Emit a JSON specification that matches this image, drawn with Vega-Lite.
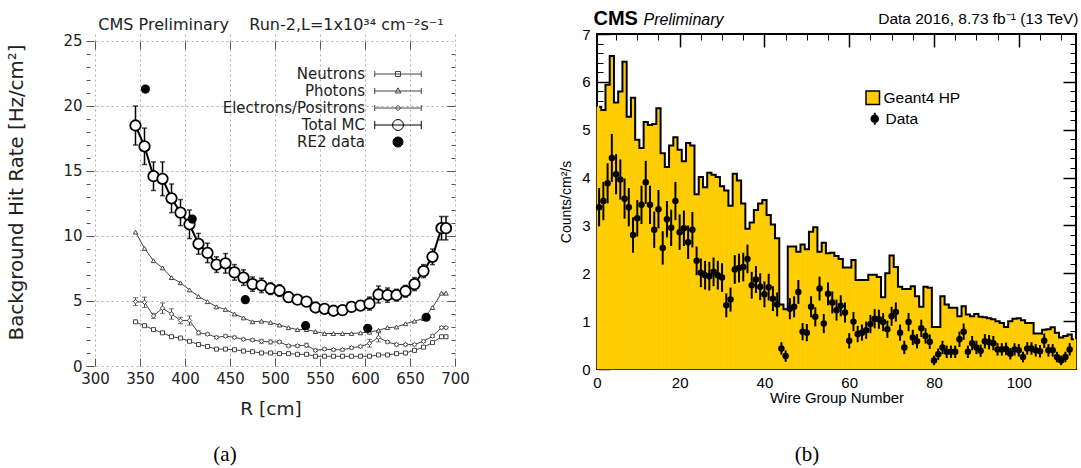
{
"$schema":"https://vega.github.io/schema/vega-lite/v6.json",
"background":"white",
"padding":{"left":6,"top":3,"right":0,"bottom":0},
"config":{"view":{"stroke":null},"axis":{"grid":false,"domain":false,"labelFlush":false,"labelOverlap":false},"legend":{"padding":0}},
"datasets":{
"sim":[
{"R":345,"N":3.4,"P":10.3,"E":4.95,"Ee":0.3,"T":18.5,"Te":1.5},
{"R":355,"N":3.1,"P":9.05,"E":4.9,"Ee":0.4,"T":16.9,"Te":1.4},
{"R":365,"N":2.8,"P":8.1,"E":3.85,"Ee":0.2,"T":14.6,"Te":1.1},
{"R":375,"N":2.55,"P":7.55,"E":4.45,"Ee":0.4,"T":14.4,"Te":1.3},
{"R":385,"N":2.25,"P":6.8,"E":4.0,"Ee":0.4,"T":12.9,"Te":1.1},
{"R":395,"N":2.15,"P":6.4,"E":3.5,"Ee":0.25,"T":11.8,"Te":1.0},
{"R":405,"N":1.9,"P":5.85,"E":3.5,"Ee":0.35,"T":10.9,"Te":1.1},
{"R":415,"N":1.65,"P":5.35,"E":2.55,"Ee":0.15,"T":9.4,"Te":0.8},
{"R":425,"N":1.5,"P":4.95,"E":2.45,"Ee":0.1,"T":8.7,"Te":0.75},
{"R":435,"N":1.3,"P":4.55,"E":2.2,"Ee":0.1,"T":7.8,"Te":0.6},
{"R":445,"N":1.3,"P":4.35,"E":2.3,"Ee":0.1,"T":7.9,"Te":0.75},
{"R":455,"N":1.25,"P":4.0,"E":2.2,"Ee":0.1,"T":7.2,"Te":0.6},
{"R":465,"N":1.15,"P":3.7,"E":2.05,"Ee":0.1,"T":6.8,"Te":0.6},
{"R":475,"N":1.1,"P":3.4,"E":2.0,"Ee":0.1,"T":6.3,"Te":0.55},
{"R":485,"N":1.0,"P":3.45,"E":1.9,"Ee":0.15,"T":6.2,"Te":0.55},
{"R":495,"N":1.0,"P":3.35,"E":1.85,"Ee":0.15,"T":5.95,"Te":0.45},
{"R":505,"N":0.95,"P":3.15,"E":1.85,"Ee":0.1,"T":5.8,"Te":0.45},
{"R":515,"N":0.95,"P":2.95,"E":1.55,"Ee":0.1,"T":5.3,"Te":0.4},
{"R":525,"N":0.9,"P":2.8,"E":1.55,"Ee":0.1,"T":5.1,"Te":0.35},
{"R":535,"N":0.9,"P":2.8,"E":1.6,"Ee":0.15,"T":4.95,"Te":0.35},
{"R":545,"N":0.75,"P":2.65,"E":1.2,"Ee":0.1,"T":4.5,"Te":0.3},
{"R":555,"N":0.75,"P":2.5,"E":1.3,"Ee":0.1,"T":4.4,"Te":0.3},
{"R":565,"N":0.75,"P":2.5,"E":1.25,"Ee":0.1,"T":4.25,"Te":0.3},
{"R":575,"N":0.75,"P":2.5,"E":1.25,"Ee":0.1,"T":4.3,"Te":0.3},
{"R":585,"N":0.75,"P":2.5,"E":1.4,"Ee":0.1,"T":4.55,"Te":0.3},
{"R":595,"N":0.75,"P":2.55,"E":1.5,"Ee":0.1,"T":4.65,"Te":0.35},
{"R":605,"N":0.75,"P":2.6,"E":1.75,"Ee":0.3,"T":4.8,"Te":0.5},
{"R":615,"N":0.85,"P":2.75,"E":2.2,"Ee":0.35,"T":5.5,"Te":0.65},
{"R":625,"N":0.85,"P":2.95,"E":1.85,"Ee":0.1,"T":5.45,"Te":0.55},
{"R":635,"N":0.95,"P":3.0,"E":1.65,"Ee":0.1,"T":5.45,"Te":0.45},
{"R":645,"N":1.0,"P":3.25,"E":1.65,"Ee":0.1,"T":5.75,"Te":0.45},
{"R":655,"N":1.2,"P":3.45,"E":1.65,"Ee":0.1,"T":6.3,"Te":0.5},
{"R":665,"N":1.45,"P":3.65,"E":1.9,"Ee":0.1,"T":7.3,"Te":0.5},
{"R":675,"N":1.8,"P":4.5,"E":2.3,"Ee":0.1,"T":8.4,"Te":0.6},
{"R":685,"N":2.25,"P":5.6,"E":2.95,"Ee":0.1,"T":10.6,"Te":0.9},
{"R":690,"N":2.25,"P":5.6,"E":2.95,"Ee":0.1,"T":10.6,"Te":0.9}
],
"re2":[{"R":356,"v":21.3},{"R":408,"v":11.3},{"R":467,"v":5.1},{"R":534,"v":3.1},{"R":603,"v":2.9},{"R":668,"v":3.75}],
"wg":[
{"wg":1,"lo":0.5,"hi":1.5,"h":5.48,"d":3.38,"e":0.4},
{"wg":2,"lo":1.5,"hi":2.5,"h":5.41,"d":3.51,"e":0.4},
{"wg":3,"lo":2.5,"hi":3.5,"h":5.94,"d":3.88,"e":0.42},
{"wg":4,"lo":3.5,"hi":4.5,"h":6.54,"d":4.41,"e":0.5},
{"wg":5,"lo":4.5,"hi":5.5,"h":5.57,"d":4.07,"e":0.42},
{"wg":6,"lo":5.5,"hi":6.5,"h":5.8,"d":3.96,"e":0.42},
{"wg":7,"lo":6.5,"hi":7.5,"h":6.42,"d":3.56,"e":0.42},
{"wg":8,"lo":7.5,"hi":8.5,"h":5.27,"d":3.38,"e":0.4},
{"wg":9,"lo":8.5,"hi":9.5,"h":5.67,"d":2.8,"e":0.37},
{"wg":10,"lo":9.5,"hi":10.5,"h":4.79,"d":3.15,"e":0.38},
{"wg":11,"lo":10.5,"hi":11.5,"h":4.62,"d":3.43,"e":0.4},
{"wg":12,"lo":11.5,"hi":12.5,"h":5.16,"d":3.9,"e":0.45},
{"wg":13,"lo":12.5,"hi":13.5,"h":5.1,"d":3.43,"e":0.4},
{"wg":14,"lo":13.5,"hi":14.5,"h":5.12,"d":2.91,"e":0.38},
{"wg":15,"lo":14.5,"hi":15.5,"h":5.45,"d":3.34,"e":0.4},
{"wg":16,"lo":15.5,"hi":16.5,"h":4.51,"d":2.53,"e":0.35},
{"wg":17,"lo":16.5,"hi":17.5,"h":4.22,"d":3.13,"e":0.38},
{"wg":18,"lo":17.5,"hi":18.5,"h":4.67,"d":2.95,"e":0.38},
{"wg":19,"lo":18.5,"hi":19.5,"h":4.84,"d":3.51,"e":0.4},
{"wg":20,"lo":19.5,"hi":20.5,"h":4.58,"d":2.86,"e":0.37},
{"wg":21,"lo":20.5,"hi":21.5,"h":4.34,"d":2.94,"e":0.37},
{"wg":22,"lo":21.5,"hi":22.5,"h":4.72,"d":2.65,"e":0.35},
{"wg":23,"lo":22.5,"hi":23.5,"h":4.67,"d":2.91,"e":0.37},
{"wg":24,"lo":23.5,"hi":24.5,"h":3.65,"d":2.26,"e":0.3},
{"wg":25,"lo":24.5,"hi":25.5,"h":4.01,"d":2.01,"e":0.3},
{"wg":26,"lo":25.5,"hi":26.5,"h":3.8,"d":1.96,"e":0.3},
{"wg":27,"lo":26.5,"hi":27.5,"h":4.1,"d":1.94,"e":0.3},
{"wg":28,"lo":27.5,"hi":28.5,"h":4.06,"d":2.03,"e":0.3},
{"wg":29,"lo":28.5,"hi":29.5,"h":4.01,"d":1.96,"e":0.3},
{"wg":30,"lo":29.5,"hi":30.5,"h":3.82,"d":1.91,"e":0.3},
{"wg":31,"lo":30.5,"hi":31.5,"h":3.73,"d":1.33,"e":0.25},
{"wg":32,"lo":31.5,"hi":32.5,"h":3.41,"d":1.45,"e":0.25},
{"wg":33,"lo":32.5,"hi":33.5,"h":4.08,"d":2.08,"e":0.3},
{"wg":34,"lo":33.5,"hi":34.5,"h":3.94,"d":2.11,"e":0.3},
{"wg":35,"lo":34.5,"hi":35.5,"h":3.46,"d":2.13,"e":0.3},
{"wg":36,"lo":35.5,"hi":36.5,"h":2.93,"d":2.3,"e":0.3},
{"wg":37,"lo":36.5,"hi":37.5,"h":3.06,"d":1.75,"e":0.28},
{"wg":38,"lo":37.5,"hi":38.5,"h":3.32,"d":1.87,"e":0.28},
{"wg":39,"lo":38.5,"hi":39.5,"h":3.46,"d":1.72,"e":0.28},
{"wg":40,"lo":39.5,"hi":40.5,"h":3.53,"d":1.56,"e":0.27},
{"wg":41,"lo":40.5,"hi":41.5,"h":3.22,"d":1.71,"e":0.28},
{"wg":42,"lo":41.5,"hi":42.5,"h":3.02,"d":1.47,"e":0.26},
{"wg":43,"lo":42.5,"hi":43.5,"h":2.73,"d":1.35,"e":0.25},
{"wg":44,"lo":43.5,"hi":44.5,"h":1.35,"d":0.43,"e":0.13},
{"wg":45,"lo":44.5,"hi":45.5,"h":1.25,"d":0.27,"e":0.12},
{"wg":46,"lo":45.5,"hi":46.5,"h":2.56,"d":1.26,"e":0.22},
{"wg":47,"lo":46.5,"hi":47.5,"h":2.56,"d":1.3,"e":0.22},
{"wg":48,"lo":47.5,"hi":48.5,"h":2.45,"d":1.61,"e":0.25},
{"wg":49,"lo":48.5,"hi":49.5,"h":2.6,"d":0.78,"e":0.18},
{"wg":50,"lo":49.5,"hi":50.5,"h":2.5,"d":0.76,"e":0.18},
{"wg":51,"lo":50.5,"hi":51.5,"h":2.87,"d":1.3,"e":0.22},
{"wg":52,"lo":51.5,"hi":52.5,"h":2.96,"d":1.09,"e":0.2},
{"wg":53,"lo":52.5,"hi":53.5,"h":2.45,"d":1.68,"e":0.25},
{"wg":54,"lo":53.5,"hi":54.5,"h":2.64,"d":0.95,"e":0.2},
{"wg":55,"lo":54.5,"hi":55.5,"h":2.42,"d":1.57,"e":0.24},
{"wg":56,"lo":55.5,"hi":56.5,"h":2.43,"d":1.39,"e":0.23},
{"wg":57,"lo":56.5,"hi":57.5,"h":2.36,"d":1.23,"e":0.22},
{"wg":58,"lo":57.5,"hi":58.5,"h":2.3,"d":1.32,"e":0.22},
{"wg":59,"lo":58.5,"hi":59.5,"h":2.12,"d":1.18,"e":0.21},
{"wg":60,"lo":59.5,"hi":60.5,"h":2.12,"d":0.59,"e":0.16},
{"wg":61,"lo":60.5,"hi":61.5,"h":2.28,"d":0.99,"e":0.2},
{"wg":62,"lo":61.5,"hi":62.5,"h":1.86,"d":0.73,"e":0.17},
{"wg":63,"lo":62.5,"hi":63.5,"h":1.86,"d":0.76,"e":0.17},
{"wg":64,"lo":63.5,"hi":64.5,"h":1.86,"d":0.81,"e":0.18},
{"wg":65,"lo":64.5,"hi":65.5,"h":1.97,"d":0.94,"e":0.19},
{"wg":66,"lo":65.5,"hi":66.5,"h":1.97,"d":1.05,"e":0.2},
{"wg":67,"lo":66.5,"hi":67.5,"h":1.92,"d":1.04,"e":0.2},
{"wg":68,"lo":67.5,"hi":68.5,"h":1.5,"d":0.98,"e":0.19},
{"wg":69,"lo":68.5,"hi":69.5,"h":2.0,"d":0.83,"e":0.18},
{"wg":70,"lo":69.5,"hi":70.5,"h":2.37,"d":1.1,"e":0.2},
{"wg":71,"lo":70.5,"hi":71.5,"h":2.13,"d":1.19,"e":0.2},
{"wg":72,"lo":71.5,"hi":72.5,"h":1.72,"d":0.76,"e":0.17},
{"wg":73,"lo":72.5,"hi":73.5,"h":1.67,"d":0.45,"e":0.14},
{"wg":74,"lo":73.5,"hi":74.5,"h":1.67,"d":0.98,"e":0.19},
{"wg":75,"lo":74.5,"hi":75.5,"h":1.73,"d":0.66,"e":0.16},
{"wg":76,"lo":75.5,"hi":76.5,"h":1.52,"d":0.58,"e":0.15},
{"wg":77,"lo":76.5,"hi":77.5,"h":1.3,"d":0.85,"e":0.18},
{"wg":78,"lo":77.5,"hi":78.5,"h":1.72,"d":0.69,"e":0.16},
{"wg":79,"lo":78.5,"hi":79.5,"h":1.7,"d":0.57,"e":0.15},
{"wg":80,"lo":79.5,"hi":80.5,"h":0.88,"d":0.18,"e":0.1},
{"wg":81,"lo":80.5,"hi":81.5,"h":0.88,"d":0.31,"e":0.12},
{"wg":82,"lo":81.5,"hi":82.5,"h":1.52,"d":0.45,"e":0.14},
{"wg":83,"lo":82.5,"hi":83.5,"h":1.35,"d":0.36,"e":0.13},
{"wg":84,"lo":83.5,"hi":84.5,"h":1.28,"d":0.36,"e":0.13},
{"wg":85,"lo":84.5,"hi":85.5,"h":1.28,"d":0.36,"e":0.13},
{"wg":86,"lo":85.5,"hi":86.5,"h":1.1,"d":0.62,"e":0.16},
{"wg":87,"lo":86.5,"hi":87.5,"h":1.31,"d":0.78,"e":0.17},
{"wg":88,"lo":87.5,"hi":88.5,"h":1.14,"d":0.36,"e":0.13},
{"wg":89,"lo":88.5,"hi":89.5,"h":1.1,"d":0.54,"e":0.15},
{"wg":90,"lo":89.5,"hi":90.5,"h":1.15,"d":0.45,"e":0.14},
{"wg":91,"lo":90.5,"hi":91.5,"h":1.09,"d":0.38,"e":0.13},
{"wg":92,"lo":91.5,"hi":92.5,"h":1.08,"d":0.58,"e":0.15},
{"wg":93,"lo":92.5,"hi":93.5,"h":1.06,"d":0.56,"e":0.15},
{"wg":94,"lo":93.5,"hi":94.5,"h":1.04,"d":0.54,"e":0.15},
{"wg":95,"lo":94.5,"hi":95.5,"h":1.0,"d":0.41,"e":0.13},
{"wg":96,"lo":95.5,"hi":96.5,"h":0.96,"d":0.41,"e":0.13},
{"wg":97,"lo":96.5,"hi":97.5,"h":0.88,"d":0.42,"e":0.13},
{"wg":98,"lo":97.5,"hi":98.5,"h":1.0,"d":0.32,"e":0.12},
{"wg":99,"lo":98.5,"hi":99.5,"h":1.05,"d":0.41,"e":0.13},
{"wg":100,"lo":99.5,"hi":100.5,"h":1.06,"d":0.39,"e":0.13},
{"wg":101,"lo":100.5,"hi":101.5,"h":1.02,"d":0.25,"e":0.11},
{"wg":102,"lo":101.5,"hi":102.5,"h":0.96,"d":0.43,"e":0.13},
{"wg":103,"lo":102.5,"hi":103.5,"h":0.96,"d":0.43,"e":0.13},
{"wg":104,"lo":103.5,"hi":104.5,"h":0.74,"d":0.39,"e":0.13},
{"wg":105,"lo":104.5,"hi":105.5,"h":0.74,"d":0.37,"e":0.13},
{"wg":106,"lo":105.5,"hi":106.5,"h":0.82,"d":0.59,"e":0.15},
{"wg":107,"lo":106.5,"hi":107.5,"h":0.83,"d":0.39,"e":0.13},
{"wg":108,"lo":107.5,"hi":108.5,"h":0.87,"d":0.39,"e":0.13},
{"wg":109,"lo":108.5,"hi":109.5,"h":0.76,"d":0.25,"e":0.11},
{"wg":110,"lo":109.5,"hi":110.5,"h":0.66,"d":0.18,"e":0.1},
{"wg":111,"lo":110.5,"hi":111.5,"h":0.69,"d":0.25,"e":0.11},
{"wg":112,"lo":111.5,"hi":112.5,"h":0.72,"d":0.41,"e":0.13},
{"wg":113,"lo":112.5,"hi":113.5,"h":0.62,"d":null,"e":null}
]
},
"spacing":25,
"vconcat":[
{"hconcat":[
{
"width":369,"height":332,
"view":{"stroke":null},
"resolve":{"axis":{"x":"independent","y":"independent"},"scale":{"shape":"independent","fill":"independent","stroke":"independent","strokeWidth":"independent"}},
"layer":[
{"data":{"name":"sim"},
"transform":[{"fold":["N","P","E"],"as":["s","v"]}],
"mark":{"type":"line","color":"#444","strokeWidth":1},
"encoding":{
"x":{"field":"R","type":"quantitative","scale":{"domain":[290,700],"nice":false,"zero":false},
"axis":{"orient":"bottom","values":[300,350,400,450,500,550,600,650,700],"title":"R [cm]","grid":true,"gridDash":[2,3],"gridColor":"#999","gridWidth":0.8,"tickSize":-8,"tickColor":"#555","labelPadding":13,"labelFont":"DejaVu Sans","labelFontSize":15,"labelColor":"#222","titleFont":"DejaVu Sans","titleFontSize":18.5,"titleFontWeight":"normal","titleColor":"#222","titlePadding":13}},
"y":{"field":"v","type":"quantitative","scale":{"domain":[0,25.538],"nice":false},
"axis":{"orient":"left","values":[0,5,10,15,20,25],"title":"Background Hit Rate [Hz/cm²]","grid":true,"gridDash":[2,3],"gridColor":"#999","gridWidth":0.8,"tickSize":-8,"tickColor":"#555","labelPadding":12,"labelFont":"DejaVu Sans","labelFontSize":15,"labelColor":"#222","titleFont":"DejaVu Sans","titleFontSize":19.8,"titleFontWeight":"normal","titleColor":"#222","titlePadding":36,"titleY":158}},
"detail":{"field":"s"}
}},
{"data":{"name":"sim"},
"mark":{"type":"line","color":"black","strokeWidth":2},
"encoding":{
"x":{"field":"R","type":"quantitative","scale":{"domain":[290,700],"nice":false,"zero":false},"axis":null},
"y":{"field":"T","type":"quantitative","scale":{"domain":[0,25.538],"nice":false},"axis":null}
}},
{"data":{"name":"sim"},
"mark":{"type":"errorbar","ticks":true,"thickness":1.5,"color":"black"},
"encoding":{
"x":{"field":"R","type":"quantitative","scale":{"domain":[290,700],"nice":false,"zero":false},
"axis":{"orient":"top","offset":-7,"values":[300,350,400,450,500,550,600,650],"labels":false,"tickSize":-8,"tickColor":"#555","title":"CMS Preliminary\u00a0\u00a0\u00a0 Run-2,L=1x10\u00b3\u2074 cm\u207b\u00b2s\u207b\u00b9","titleFont":"DejaVu Sans","titleFontSize":16,"titleFontWeight":"normal","titleColor":"#222","titleY":-11.7,"titleBaseline":"alphabetic"}},
"y":{"field":"T","type":"quantitative","scale":{"domain":[0,25.538],"nice":false},
"axis":{"orient":"right","values":[5,10,15,20],"labels":false,"tickSize":-8,"tickColor":"#555","title":null}},
"yError":{"field":"Te"}
}},
{"data":{"name":"sim"},
"mark":{"type":"errorbar","ticks":true,"thickness":1,"color":"#444"},
"encoding":{
"x":{"field":"R","type":"quantitative","scale":{"domain":[290,700],"nice":false,"zero":false},"axis":null},
"y":{"field":"E","type":"quantitative","scale":{"domain":[0,25.538],"nice":false},
"axis":{"orient":"right","values":[1,2,3,4,6,7,8,9,11,12,13,14,16,17,18,19,21,22,23,24],"labels":false,"tickSize":-4,"tickColor":"#555","title":null}},
"yError":{"field":"Ee"}
}},
{"data":{"name":"sim"},
"mark":{"type":"point","shape":"square","size":16,"filled":true,"fill":"white","stroke":"#444","strokeWidth":1,"opacity":1},
"encoding":{
"x":{"field":"R","type":"quantitative","scale":{"domain":[290,700],"nice":false,"zero":false},"axis":null},
"y":{"field":"N","type":"quantitative","scale":{"domain":[0,25.538],"nice":false},
"axis":{"orient":"left","values":[1,2,3,4,6,7,8,9,11,12,13,14,16,17,18,19,21,22,23,24],"labels":false,"tickSize":-4,"tickColor":"#555","title":null}}
}},
{"data":{"name":"sim"},
"mark":{"type":"point","shape":"triangle-up","size":20,"filled":true,"fill":"white","stroke":"#444","strokeWidth":1,"opacity":1},
"encoding":{
"x":{"field":"R","type":"quantitative","scale":{"domain":[290,700],"nice":false,"zero":false},"axis":null},
"y":{"field":"P","type":"quantitative","scale":{"domain":[0,25.538],"nice":false},"axis":null}
}},
{"data":{"name":"sim"},
"mark":{"type":"point","shape":"diamond","size":20,"filled":true,"fill":"white","stroke":"#444","strokeWidth":1,"opacity":1},
"encoding":{
"x":{"field":"R","type":"quantitative","scale":{"domain":[290,700],"nice":false,"zero":false},"axis":null},
"y":{"field":"E","type":"quantitative","scale":{"domain":[0,25.538],"nice":false},"axis":null}
}},
{"data":{"name":"sim"},
"mark":{"type":"point","shape":"circle","size":110,"filled":true,"fill":"white","stroke":"black","strokeWidth":1.8,"opacity":1},
"encoding":{
"x":{"field":"R","type":"quantitative","scale":{"domain":[290,700],"nice":false,"zero":false},"axis":null},
"y":{"field":"T","type":"quantitative","scale":{"domain":[0,25.538],"nice":false},"axis":null}
}},
{"data":{"name":"re2"},
"mark":{"type":"point","shape":"circle","filled":true,"color":"black","size":85,"opacity":1},
"encoding":{
"x":{"field":"R","type":"quantitative","scale":{"domain":[290,700],"nice":false,"zero":false},"axis":null},
"y":{"field":"v","type":"quantitative","scale":{"domain":[0,25.538],"nice":false},"axis":null}
}},
{"mark":{"type":"rect","fill":"white","strokeWidth":0},
"encoding":{
"x":{"datum":289,"type":"quantitative","scale":{"domain":[290,700],"nice":false,"zero":false},"axis":null},
"x2":{"datum":701},
"y":{"datum":25,"type":"quantitative","scale":{"domain":[0,25.538],"nice":false},"axis":null},
"y2":{"datum":25.6}
}},
{"mark":{"type":"rect","fill":"transparent","stroke":"#555","strokeWidth":1},
"encoding":{
"x":{"datum":290,"type":"quantitative","scale":{"domain":[290,700],"nice":false,"zero":false},"axis":null},
"x2":{"datum":700},
"y":{"datum":0,"type":"quantitative","scale":{"domain":[0,25.538],"nice":false},"axis":null},
"y2":{"datum":25}
}},
{"data":{"values":[]},
"mark":{"type":"point","filled":true,"size":225,"opacity":1},
"encoding":{
"shape":{"field":"s","type":"nominal","scale":{"domain":["Neutrons","Photons","Electrons/Positrons","Total MC","RE2 data"],"range":["M-3.1,0H3.1M-3.1,-0.4V0.4M3.1,-0.4V0.4M-0.33,-0.33H0.33V0.33H-0.33Z","M-3.1,0H3.1M-3.1,-0.4V0.4M3.1,-0.4V0.4M0,-0.42L0.38,0.26H-0.38Z","M-3.1,0H3.1M-3.1,-0.4V0.4M3.1,-0.4V0.4M0,-0.36L0.36,0L0,0.36L-0.36,0Z","M-3.1,0H3.1M-3.1,-0.55V0.55M3.1,-0.55V0.55M0.73,0A0.73,0.73 0 1,1 -0.73,0A0.73,0.73 0 1,1 0.73,0Z","M0.67,0A0.67,0.67 0 1,1 -0.67,0A0.67,0.67 0 1,1 0.67,0Z"]},
"legend":{"orient":"none","legendX":304,"legendY":32,"title":null,"labelAlign":"right","labelOffset":-41,"labelFont":"DejaVu Sans","labelFontSize":15,"labelColor":"#222","labelLimit":400,"rowPadding":1,"symbolSize":225,"symbolOpacity":1}},
"fill":{"field":"s","type":"nominal","scale":{"domain":["Neutrons","Photons","Electrons/Positrons","Total MC","RE2 data"],"range":["white","white","white","white","black"]},
"legend":{"orient":"none","legendX":304,"legendY":32,"title":null,"labelAlign":"right","labelOffset":-41,"labelFont":"DejaVu Sans","labelFontSize":15,"labelColor":"#222","labelLimit":400,"rowPadding":1,"symbolSize":225,"symbolOpacity":1}},
"stroke":{"field":"s","type":"nominal","scale":{"domain":["Neutrons","Photons","Electrons/Positrons","Total MC","RE2 data"],"range":["#444","#444","#444","black","black"]},
"legend":{"orient":"none","legendX":304,"legendY":32,"title":null,"labelAlign":"right","labelOffset":-41,"labelFont":"DejaVu Sans","labelFontSize":15,"labelColor":"#222","labelLimit":400,"rowPadding":1,"symbolSize":225,"symbolOpacity":1}},
"strokeWidth":{"field":"s","type":"nominal","scale":{"domain":["Neutrons","Photons","Electrons/Positrons","Total MC","RE2 data"],"range":[1,1,1,1.8,1]},
"legend":{"orient":"none","legendX":304,"legendY":32,"title":null,"labelAlign":"right","labelOffset":-41,"labelFont":"DejaVu Sans","labelFontSize":15,"labelColor":"#222","labelLimit":400,"rowPadding":1,"symbolSize":225,"symbolOpacity":1}}
}}
]
},
{
"width":479,"height":335,
"view":{"stroke":"black","strokeWidth":2},
"data":{"name":"wg"},
"resolve":{"axis":{"x":"independent","y":"independent"},"scale":{"fill":"independent","shape":"independent"}},
"layer":[
{"mark":{"type":"bar","color":"#FFCC00","stroke":"#FFCC00","strokeWidth":0.6},
"encoding":{
"x":{"field":"lo","type":"quantitative","scale":{"domain":[0.5,113.5],"nice":false,"zero":false},
"axis":{"orient":"bottom","values":[0.5,20,40,60,80,100],"labelExpr":"datum.value < 1 ? '0' : datum.label","title":"Wire Group Number","tickSize":-13,"tickWidth":1.5,"tickColor":"black","labelPadding":19,"labelFont":"Liberation Sans","labelFontSize":15,"labelColor":"black","titleFont":"Liberation Sans","titleFontSize":15,"titleFontWeight":"normal","titleColor":"black","titlePadding":0}},
"x2":{"field":"hi"},
"y":{"field":"h","type":"quantitative","scale":{"domain":[0,7],"nice":false},
"axis":{"orient":"left","values":[0,1,2,3,4,5,6,7],"title":"Counts/cm²/s","tickSize":-13,"tickWidth":1.5,"tickColor":"black","labelPadding":20,"labelFont":"Liberation Sans","labelFontSize":15,"labelColor":"black","titleFont":"Liberation Sans","titleFontSize":14,"titleFontWeight":"normal","titleColor":"black","titlePadding":8}},
"y2":{"datum":0}
}},
{"mark":{"type":"line","interpolate":"step","color":"black","strokeWidth":2},
"encoding":{
"x":{"field":"wg","type":"quantitative","scale":{"domain":[0.5,113.5],"nice":false,"zero":false},
"axis":{"orient":"top","values":[20,40,60,80,100],"labels":false,"tickSize":-13,"tickWidth":1.5,"tickColor":"black","title":"CMS","titleFont":"Liberation Sans","titleFontSize":20,"titleFontWeight":"bold","titleColor":"black","titleX":-4,"titleY":-9.5,"titleAlign":"left","titleBaseline":"alphabetic"}},
"y":{"field":"h","type":"quantitative","scale":{"domain":[0,7],"nice":false},
"axis":{"orient":"right","values":[1,2,3,4,5,6],"labels":false,"tickSize":-13,"tickWidth":1.5,"tickColor":"black","title":null}}
}},
{"mark":{"type":"errorbar","thickness":2,"color":"black"},
"encoding":{
"x":{"field":"wg","type":"quantitative","scale":{"domain":[0.5,113.5],"nice":false,"zero":false},
"axis":{"orient":"top","values":[5,10,15,25,30,35,45,50,55,65,70,75,85,90,95,105,110],"labels":false,"tickSize":-6,"tickColor":"black","title":"Preliminary","titleFont":"Liberation Sans","titleFontSize":16,"titleFontWeight":"normal","titleFontStyle":"italic","titleColor":"black","titleX":46,"titleY":-9.5,"titleAlign":"left","titleBaseline":"alphabetic"}},
"y":{"field":"d","type":"quantitative","scale":{"domain":[0,7],"nice":false},
"axis":{"orient":"left","values":[0.2,0.4,0.6,0.8,1.2,1.4,1.6,1.8,2.2,2.4,2.6,2.8,3.2,3.4,3.6,3.8,4.2,4.4,4.6,4.8,5.2,5.4,5.6,5.8,6.2,6.4,6.6,6.8],"labels":false,"tickSize":-6,"tickColor":"black","title":null}},
"yError":{"field":"e"}
}},
{"mark":{"type":"circle","size":42,"color":"black","opacity":1},
"encoding":{
"x":{"field":"wg","type":"quantitative","scale":{"domain":[0.5,113.5],"nice":false,"zero":false},
"axis":{"orient":"bottom","values":[5,10,15,25,30,35,45,50,55,65,70,75,85,90,95,105,110],"labels":false,"tickSize":-6,"tickColor":"black","title":null}},
"y":{"field":"d","type":"quantitative","scale":{"domain":[0,7],"nice":false},
"axis":{"orient":"right","values":[0.2,0.4,0.6,0.8,1.2,1.4,1.6,1.8,2.2,2.4,2.6,2.8,3.2,3.4,3.6,3.8,4.2,4.4,4.6,4.8,5.2,5.4,5.6,5.8,6.2,6.4,6.6,6.8],"labels":false,"tickSize":-6,"tickColor":"black","title":null}}
}},
{"data":{"values":[]},
"mark":{"type":"point","filled":true,"color":"black","size":144,"opacity":1},
"encoding":{
"x":{"field":"wg","type":"quantitative","scale":{"domain":[0.5,113.5],"nice":false,"zero":false},
"axis":{"orient":"top","offset":30,"domain":true,"domainColor":"white","domainOpacity":0,"labels":false,"ticks":false,"title":"Data 2016, 8.73 fb\u207b\u00b9 (13 TeV)","titleFont":"Liberation Sans","titleFontSize":15.5,"titleFontWeight":"normal","titleColor":"black","titleX":481,"titleY":19.5,"titleAlign":"right","titleBaseline":"alphabetic"}},
"shape":{"field":"s","type":"nominal","scale":{"domain":["Data"],"range":["M0,-1V1M0.55,0A0.55,0.55 0 1,1 -0.55,0A0.55,0.55 0 1,1 0.55,0Z"]},
"legend":{"orient":"none","legendX":270,"legendY":77,"title":null,"symbolSize":144,"symbolStrokeWidth":2,"symbolFillColor":"black","symbolStrokeColor":"black","symbolOpacity":1,"labelFont":"Liberation Sans","labelFontSize":15.5,"labelColor":"black","labelOffset":3}},
"fill":{"field":"g","type":"nominal","scale":{"domain":["Geant4 HP"],"range":["#FFCC00"]},
"legend":{"orient":"none","legendX":268,"legendY":56,"title":null,"symbolType":"square","symbolSize":182,"symbolStrokeColor":"black","symbolStrokeWidth":1.5,"symbolOpacity":1,"labelFont":"Liberation Sans","labelFontSize":15.5,"labelColor":"black","labelOffset":3}}
}}
]
}
],"spacing":88},
{"hconcat":[
{"width":278,"height":24,"view":{"stroke":null},"data":{"values":[{"t":"(a)"}]},"mark":{"type":"text","font":"Liberation Serif","fontSize":21,"color":"black"},"encoding":{"text":{"field":"t"}}},
{"width":536,"height":24,"view":{"stroke":null},"data":{"values":[{"t":"(b)"}]},"mark":{"type":"text","font":"Liberation Serif","fontSize":21,"color":"black"},"encoding":{"text":{"field":"t"}}}
],"spacing":175}
]
}
